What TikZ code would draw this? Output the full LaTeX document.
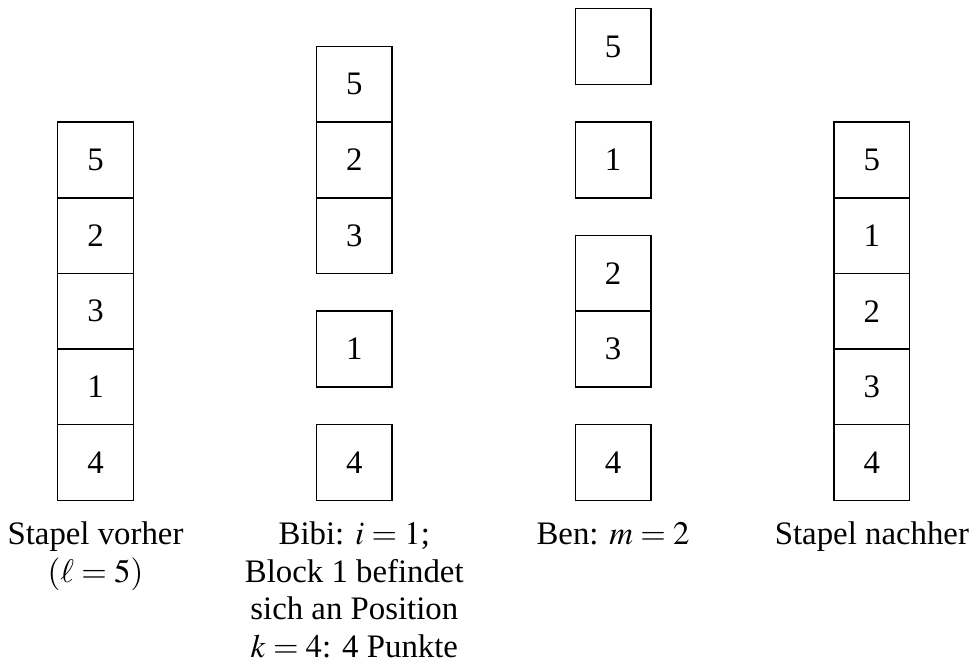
\documentclass[tikz,border=0pt]{standalone}
\usepackage{mathptmx}
\usepackage{fontspec}
\setmainfont{Liberation Serif}
\begin{document}
\begin{tikzpicture}[x=0.32pt,y=-0.32pt,
  blockbox/.style={draw=black,line width=0.45pt,minimum size=24.2pt,inner sep=0pt,font=\fontsize{10.5}{12}\selectfont},
  lab/.style={align=center,inner sep=0pt,anchor=north,font=\fontsize{10.5}{12}\selectfont}]
\useasboundingbox (0,0) rectangle (970,664);
\def\u{75.6}
% column 1: Stapel vorher
\foreach \n/\s [count=\i] in {5/0,2/1,3/2,1/3,4/4}
  \node[blockbox] (a\i) at (95.5,{160+\u*\s}) {\n};
% column 2: Bibi
\foreach \n/\s [count=\i] in {5/-1,2/0,3/1,1/2.5,4/4}
  \node[blockbox] (b\i) at (354.3,{160+\u*\s}) {\n};
% column 3: Ben
\foreach \n/\s [count=\i] in {5/-1.5,1/0,2/1.5,3/2.5,4/4}
  \node[blockbox] (c\i) at (613.1,{160+\u*\s}) {\n};
% column 4: Stapel nachher
\foreach \n/\s [count=\i] in {5/0,1/1,2/2,3/3,4/4}
  \node[blockbox] (d\i) at (871.9,{160+\u*\s}) {\n};
% labels
\node[lab] (la) at (95.5,517.75) {\strut Stapel vorher\\\strut$(\ell=5)$};
\node[lab] (lb) at (354.3,517.75) {\strut Bibi: $i=1$;\\\strut Block 1 befindet\\\strut sich an Position\\\strut $k=4$: 4 Punkte};
\node[lab] (lc) at (613.1,517.75) {\strut Ben: $m=2$};
\node[lab] (ld) at (871.9,517.75) {\strut Stapel nachher};
\end{tikzpicture}
\end{document}
